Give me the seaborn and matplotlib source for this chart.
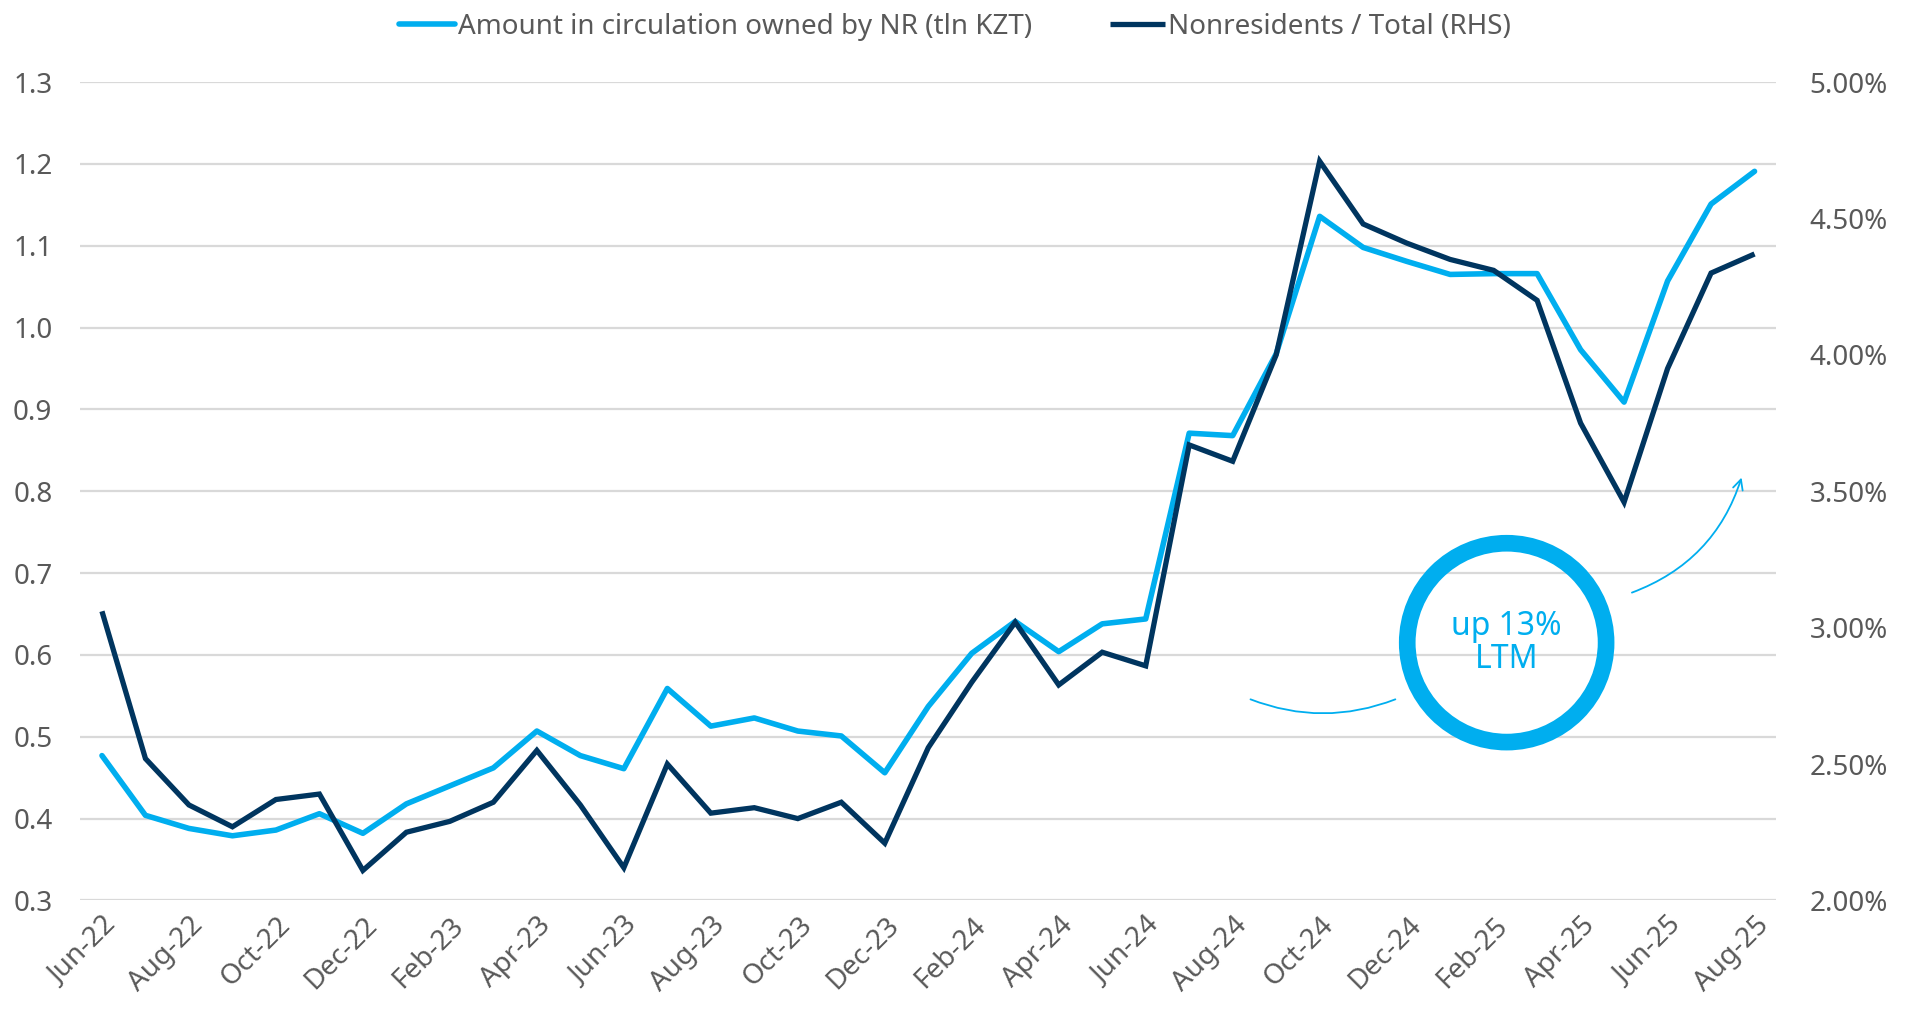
import numpy as np
import pandas as pd
import matplotlib
matplotlib.use('Agg')
import matplotlib.pyplot as plt
import seaborn as sns
from matplotlib.ticker import FuncFormatter, MultipleLocator

# monthly data, Jun-22 .. Aug-25
months = pd.date_range("2022-06-01", "2025-08-01", freq="MS").strftime("%b-%y").tolist()

# amount in circulation owned by nonresidents, tln KZT (left axis)
amount_nr = [0.477, 0.404, 0.388, 0.379, 0.386, 0.406, 0.382, 0.418, 0.440, 0.462,
             0.507, 0.477, 0.461, 0.559, 0.513, 0.523, 0.507, 0.501, 0.456, 0.537,
             0.602, 0.641, 0.604, 0.638, 0.644, 0.871, 0.868, 0.968, 1.136, 1.098,
             1.081, 1.065, 1.066, 1.066, 0.973, 0.909, 1.057, 1.151, 1.191]

# nonresidents share of total, % (right axis)
nr_share = [3.06, 2.52, 2.35, 2.27, 2.37, 2.39, 2.11, 2.25, 2.29, 2.36,
            2.55, 2.35, 2.12, 2.50, 2.32, 2.34, 2.30, 2.36, 2.21, 2.56,
            2.80, 3.02, 2.79, 2.91, 2.86, 3.67, 3.61, 4.00, 4.71, 4.48,
            4.41, 4.35, 4.31, 4.20, 3.75, 3.46, 3.95, 4.30, 4.37]

light_blue = "#00AEEF"
navy = "#00355F"
grey_text = "#595959"

df = pd.DataFrame({"idx": np.arange(len(months)), "month": months,
                   "amount": amount_nr, "share": nr_share})

sns.set_style("white")
plt.rcParams['font.family'] = ['Noto Sans', 'DejaVu Sans']

fig = plt.figure(figsize=(19.1, 10.14), dpi=100)
ax = fig.add_axes([0.042, 0.112, 0.888, 0.807])
ax2 = ax.twinx()

sns.lineplot(data=df, x="idx", y="amount", ax=ax, color=light_blue, linewidth=4.0,
             label="Amount in circulation owned by NR (tln KZT)", legend=False,
             solid_joinstyle="round", solid_capstyle="round")
sns.lineplot(data=df, x="idx", y="share", ax=ax2, color=navy, linewidth=3.8,
             label="Nonresidents / Total (RHS)", legend=False,
             solid_joinstyle="miter", solid_capstyle="butt")

ax.set_xlim(-0.5, len(months) - 0.5)
ax.set_ylim(0.3, 1.3)
ax2.set_ylim(2.0, 5.0)
ax.yaxis.set_major_locator(MultipleLocator(0.1))
ax2.yaxis.set_major_locator(MultipleLocator(0.5))
ax.yaxis.set_major_formatter(FuncFormatter(lambda v, p: f"{v:.1f}"))
ax2.yaxis.set_major_formatter(FuncFormatter(lambda v, p: f"{v:.2f}%"))

ax.grid(axis="y", color="#D9D9D9", linewidth=1.6)
ax.grid(axis="x", visible=False)
ax2.grid(False)
ax.set_axisbelow(True)

ticks = list(range(0, len(months), 2))
ax.set_xticks(ticks)
ax.set_xticklabels([months[i] for i in ticks], rotation=45, ha="right",
                   rotation_mode="anchor")
ax.set_xlabel("")
ax.set_ylabel("")
ax2.set_ylabel("")

for a in (ax, ax2):
    for s in a.spines.values():
        s.set_visible(False)
    a.tick_params(length=0, labelsize=20, labelcolor=grey_text)
ax.tick_params(axis="y", pad=20)
ax.tick_params(axis="x", pad=8)
ax2.tick_params(axis="y", pad=24)

# annotation: ring with text and two curved strokes
ax.scatter([32.3], [0.615], s=20500, facecolors="none", edgecolors=light_blue,
           linewidths=12, zorder=5)
ax.text(32.3, 0.615, "up 13%\nLTM", color=light_blue, fontsize=23, ha="center",
        va="center", linespacing=1.0, fontweight="semibold", zorder=6)
ax.annotate("", xy=(29.8, 0.547), xytext=(26.35, 0.547),
            arrowprops=dict(arrowstyle="-", color=light_blue, lw=1.3,
                            connectionstyle="arc3,rad=0.2"))
ax.annotate("", xy=(37.72, 0.82), xytext=(35.12, 0.675),
            arrowprops=dict(arrowstyle="->", color=light_blue, lw=1.3,
                            connectionstyle="arc3,rad=0.25", mutation_scale=18))

h1, l1 = ax.get_legend_handles_labels()
h2, l2 = ax2.get_legend_handles_labels()
fig.legend(h1 + h2, l1 + l2, loc="upper center", bbox_to_anchor=(0.5, 1.012), ncol=2,
           frameon=False, fontsize=20, labelcolor=grey_text, handlelength=2.0,
           handletextpad=0.1, columnspacing=2.8)

plt.savefig("out.png", dpi=100)
